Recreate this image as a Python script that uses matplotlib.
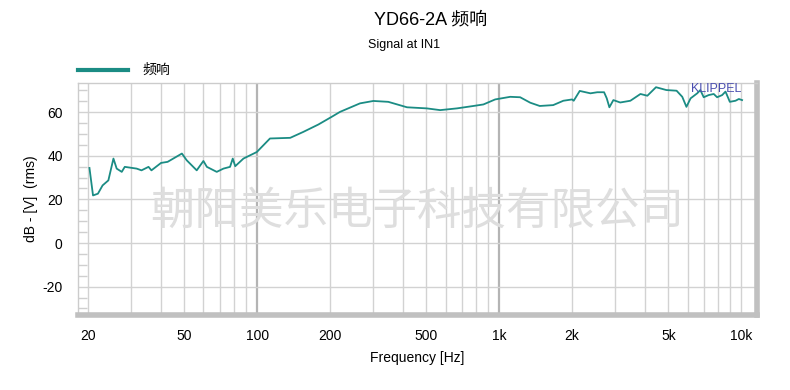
import matplotlib.pyplot as plt
from matplotlib.ticker import FixedLocator, MultipleLocator, NullFormatter

plt.rcParams['font.family'] = ['Liberation Sans', 'Noto Sans CJK SC']
plt.rcParams['axes.unicode_minus'] = False

# frequency response (Hz, dB)
freq = [20.3, 21.0, 22.0, 23.0, 24.3, 25.5, 26.3, 27.6, 28.4, 31.8, 33.3, 35.6, 36.6,
        40.1, 42.7, 48.9, 51.2, 56.3, 60.0, 62.0, 68.1, 72.6, 77.3, 79.3, 81.2, 87.8,
        99.7, 113, 137, 155, 179, 203, 220, 266, 302, 348, 416, 502, 570, 669, 782,
        860, 962, 1110, 1220, 1343, 1470, 1670, 1840, 2000, 2030, 2150, 2380, 2540,
        2710, 2780, 2850, 2960, 3160, 3480, 3830, 4090, 4440, 4900, 5400, 5700, 5930,
        6170, 6570, 6770, 6990, 7330, 7690, 7940, 8330, 8600, 8960, 9460, 9760, 10070]
level = [34.4, 21.8, 22.6, 26.4, 28.7, 38.7, 34.1, 32.6, 34.9, 34.1, 33.3, 34.9, 33.3,
         36.7, 37.2, 41.0, 37.9, 33.3, 37.6, 34.9, 32.6, 34.1, 34.9, 38.7, 35.2, 38.7,
         41.7, 47.9, 48.2, 50.9, 54.3, 57.8, 60.1, 64.0, 65.1, 64.7, 62.2, 61.7, 60.9,
         61.7, 62.8, 63.5, 65.8, 67.0, 66.8, 64.3, 62.8, 63.2, 65.2, 65.8, 65.2, 69.7,
         68.6, 69.1, 69.1, 66.3, 62.2, 65.5, 64.4, 65.2, 68.3, 67.5, 71.4, 70.1, 69.8,
         67.0, 62.4, 66.3, 68.6, 70.1, 66.8, 67.8, 68.3, 66.8, 67.8, 69.4, 64.7, 65.2,
         66.0, 65.5]

xtick_pos = [20, 50, 100, 200, 500, 1000, 2000, 5000, 10000]
xtick_lab = ['20', '50', '100', '200', '500', '1k', '2k', '5k', '10k']

teal = '#1b8c84'

fig = plt.figure(figsize=(7.9, 3.9), dpi=100)
ax = fig.add_axes([0.0987, 0.1923, 0.8595, 0.5947])

# grid: every 1-2-3..9 per decade, decades darker
grid_x = [m * 10 ** d for d in range(1, 5) for m in range(1, 10)]
grid_x = [g for g in grid_x if 20 <= g <= 10000]
for g in grid_x:
    if g in (100, 1000):
        ax.axvline(g, color='#b4b4b4', lw=1.6, zorder=1)
    else:
        ax.axvline(g, color='#d2d2d2', lw=1.0, zorder=1)
for yv in [-20, 0, 20, 40, 60]:
    ax.axhline(yv, color='#d2d2d2', lw=1.0, zorder=1)

ax.text(0.5, 0.45, '朝阳美乐电子科技有限公司', transform=ax.transAxes,
        ha='center', va='center', fontsize=32, color='#dedede',
        family=['Noto Sans CJK SC'], zorder=1.5)

ax.semilogx(freq, level, color=teal, lw=1.3, zorder=3)

ax.text(0.977, 0.975, 'KLIPPEL', transform=ax.transAxes, ha='right', va='center',
        fontsize=9, color='#4b4fb0', zorder=4)

ax.set_xlim(18.2, 11600)
ax.set_ylim(-33, 73.3)
ax.xaxis.set_major_locator(FixedLocator(xtick_pos))
ax.set_xticklabels(xtick_lab)
ax.xaxis.set_minor_formatter(NullFormatter())
ax.tick_params(axis='x', which='both', length=0, pad=10, labelsize=10)
ax.yaxis.set_major_locator(MultipleLocator(20))
ax.yaxis.set_minor_locator(MultipleLocator(5))
ax.tick_params(axis='y', which='major', length=0, pad=11, labelsize=10)
ax.tick_params(axis='y', which='minor', direction='in', length=6.5,
               color='#cfcfcf', width=1)

for s in ['left', 'top']:
    ax.spines[s].set_color('#cccccc')
    ax.spines[s].set_linewidth(1)
for s in ['right', 'bottom']:
    ax.spines[s].set_color('#c0c0c0')
    ax.spines[s].set_linewidth(4)

ax.set_xlabel('Frequency [Hz]', fontsize=10, labelpad=6)
ax.set_ylabel('dB - [V]  (rms)', fontsize=10, labelpad=3)

fig.text(0.545, 0.948, 'YD66-2A 频响', ha='center', va='center', fontsize=13)
fig.text(0.512, 0.884, 'Signal at IN1', ha='center', va='center', fontsize=9)

# legend
fig.add_artist(plt.Line2D([78 / 790, 128 / 790], [1 - 70 / 390] * 2, color=teal, lw=3))
fig.text(142 / 790, 1 - 70 / 390, '频响', ha='left', va='center', fontsize=10)

fig.savefig('out.png', dpi=100)
